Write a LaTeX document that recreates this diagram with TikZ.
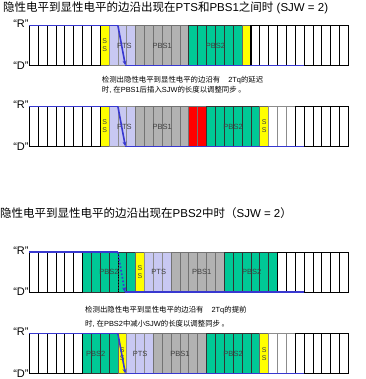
\documentclass[tikz,border=0pt]{standalone}
\usepackage{fontspec}
\setmainfont{Liberation Sans}
\newfontfamily\cjk{Noto Sans CJK SC}
\usetikzlibrary{positioning,arrows.meta}
\definecolor{ssyel}{HTML}{FFFF00}
\definecolor{ptsblue}{HTML}{C8C8F2}
\definecolor{pbsgray}{HTML}{B2B2B2}
\definecolor{pbsgreen}{HTML}{00C896}
\definecolor{sjwred}{HTML}{FF0000}
\definecolor{wavecol}{HTML}{3838D0}

\begin{document}
\begin{tikzpicture}[x=1pt,y=1pt,>=stealth,
    cell/.style={draw,line width=0.6pt,minimum width=8.86pt,minimum height=40pt,
                 inner sep=0pt,outer sep=0pt,anchor=south west},
    frame/.style={draw=black,line width=1.1pt},
    wave/.style={draw=wavecol,line width=1.6pt},
    tip/.style={-{Stealth[length=5pt,width=4pt]}},
    seg/.style={font=\fontsize{7.5}{8}\selectfont,text=black!75,inner sep=0pt},
    ss/.style={seg,align=center,font=\fontsize{7}{8}\selectfont},
    lvl/.style={font=\fontsize{11}{12}\selectfont,inner sep=0.5pt},
    title/.style={font=\fontsize{11.5}{13}\selectfont,anchor=west,inner sep=0pt},
    note/.style={font=\fontsize{7.4}{9.3}\selectfont,align=left,anchor=west,inner sep=0pt}]
  \useasboundingbox (0,0) rectangle (365,379);

  % titles
  \node[title] (t1) at (3,371.5) {{\cjk 隐性电平到显性电平的边沿出现在}PTS{\cjk 和}PBS1{\cjk 之间时} (SJW = 2)};
  \node[title] (t2) at (0,166) {{\cjk 隐性电平到显性电平的边沿出现在}PBS2{\cjk 中时（}SJW = 2{\cjk ）}};

  % row a : edge between PTS and PBS1
  \foreach \f/\t/\c/\l in {0/7/white/black,8/8/ssyel/black!60,9/11/ptsblue/black!45,
      12/17/pbsgray/black!55,18/23/pbsgreen/black!80,24/24/ssyel/black!60,25/35/white/black}
    \foreach \i in {\f,...,\t}
      \node[cell,fill=\c,draw=\l] (a\i) at ({29.3+8.86*\i},313.5) {};
  \draw[frame] (a0.south west) rectangle (a7.north east);
  \draw[frame] (a25.south west) rectangle (a35.north east);
  \node[ss] (ssa) at (a8) {S\\S};
  \node[seg] (ptsa) at ([xshift=2pt]a10) {PTS};
  \node[seg] (pbs1a) at (a14.east) {PBS1};
  \node[seg] (pbs2a) at (a20.east) {PBS2};
  \node[lvl,left=0pt of a0.north west,yshift=1.5pt] (ra) {“R”};
  \node[lvl,left=0pt of a0.south west] (da) {“D”};
  \coordinate (fa) at ([xshift=7.5pt]a10.south west);
  \draw[wave] (a0.north west) -- (a9.north east);
  \draw[wave,tip] (a9.north east) -- (fa);
  \draw[wave] (fa) -- (a30.south east);

  \node[note] (n1) at (101.7,294.3) {{\cjk 检测出隐性电平到显性电平的边沿有}\hspace{8pt}2Tq{\cjk 的延迟}\\
    {\cjk 时}, {\cjk 在}PBS1{\cjk 后插入}SJW{\cjk 的长度以调整同步 。}};

  % row b : SJW inserted after PBS1
  \foreach \f/\t/\c/\l in {0/7/white/black,8/8/ssyel/black!60,9/11/ptsblue/black!45,
      12/17/pbsgray/black!55,18/19/sjwred/black!55,20/25/pbsgreen/black!80,26/26/ssyel/black!60,
      27/29/white/black!45,30/35/white/black}
    \foreach \i in {\f,...,\t}
      \node[cell,fill=\c,draw=\l] (b\i) at ({29.3+8.86*\i},232.5) {};
  \draw[frame] (b0.south west) rectangle (b7.north east);
  \draw[frame] (b30.south west) rectangle (b35.north east);
  \node[ss] (ssb) at (b8) {S\\S};
  \node[ss] (ssb2) at (b26) {S\\S};
  \node[seg] (ptsb) at ([xshift=2pt]b10) {PTS};
  \node[seg] (pbs1b) at (b14.east) {PBS1};
  \node[seg] (pbs2b) at (b22.east) {PBS2};
  \node[lvl,left=0pt of b0.north west,yshift=1.5pt] (rb) {“R”};
  \node[lvl,left=0pt of b0.south west] (db) {“D”};
  \coordinate (fb) at ([xshift=7.5pt]b10.south west);
  \draw[wave] (b0.north west) -- (b9.north east);
  \draw[wave,tip] (b9.north east) -- (fb);
  \draw[wave] (fb) -- (b30.south east);

  % row c : edge inside PBS2
  \foreach \f/\t/\c/\l in {0/5/white/black,6/11/pbsgreen/black!80,12/12/ssyel/black!60,
      13/15/ptsblue/black!45,16/21/pbsgray/black!55,22/27/pbsgreen/black!80,28/35/white/black}
    \foreach \i in {\f,...,\t}
      \node[cell,fill=\c,draw=\l] (c\i) at ({29.3+8.86*\i},86.8) {};
  \draw[frame] (c0.south west) rectangle (c5.north east);
  \draw[frame] (c28.south west) rectangle (c35.north east);
  \node[ss] (ssc) at (c12) {S\\S};
  \node[seg] (pbs2c) at (c8.east) {PBS2};
  \node[seg] (ptsc) at ([xshift=1pt]c14) {PTS};
  \node[seg] (pbs1c) at ([xshift=4pt]c18.east) {PBS1};
  \node[seg] (pbs2c2) at ([xshift=1pt]c24.east) {PBS2};
  \node[lvl,left=0pt of c0.north west,yshift=1.5pt] (rc) {“R”};
  \node[lvl,left=0pt of c0.south west] (dc) {“D”};
  \coordinate (fc) at ([xshift=7pt]c10.south west);
  \draw[dotted,thick] (c9.north east) -- (c9.south east);
  \draw[wave] (c0.north west) -- (c9.north east);
  \draw[wave,dotted,tip] (c9.north east) -- (fc);
  \draw[wave] (fc) -- (c30.south east);

  \node[note,font=\fontsize{7.4}{13.3}\selectfont] (n2) at (85,62.3) {{\cjk 检测出隐性电平到显性电平的边沿有}\hspace{8pt}2Tq{\cjk 的提前}\\
    {\cjk 时}, {\cjk 在}PBS2{\cjk 中减小}SJW{\cjk 的长度以调整同步 。}};

  % row d : SJW removed from PBS2
  \foreach \f/\t/\c/\l in {0/5/white/black,6/9/pbsgreen/black!80,10/10/ssyel/black!60,
      11/13/ptsblue/black!45,14/19/pbsgray/black!55,20/25/pbsgreen/black!80,26/26/ssyel/black!60,
      27/29/white/black!45,30/35/white/black}
    \foreach \i in {\f,...,\t}
      \node[cell,fill=\c,draw=\l] (d\i) at ({29.3+8.86*\i},5.3) {};
  \draw[frame] (d0.south west) rectangle (d5.north east);
  \draw[frame] (d30.south west) rectangle (d35.north east);
  \node[ss] (ssd) at (d10) {S\\S};
  \node[ss] (ssd2) at (d26) {S\\S};
  \node[seg] (pbs2d) at (d7) {PBS2};
  \node[seg] (ptsd) at (d12) {PTS};
  \node[seg] (pbs1d) at (d16.east) {PBS1};
  \node[seg] (pbs2d2) at (d22.east) {PBS2};
  \node[lvl,left=0pt of d0.north west,yshift=1.5pt] (rd) {“R”};
  \node[lvl,left=0pt of d0.south west] (dd) {“D”};
  \coordinate (fd) at ([xshift=7.5pt]d10.south west);
  \draw[wave] (d0.north west) -- (d9.north east);
  \draw[wave,tip] (d9.north east) -- (fd);
  \draw[wave] (fd) -- (d30.south east);
\end{tikzpicture}
\end{document}
